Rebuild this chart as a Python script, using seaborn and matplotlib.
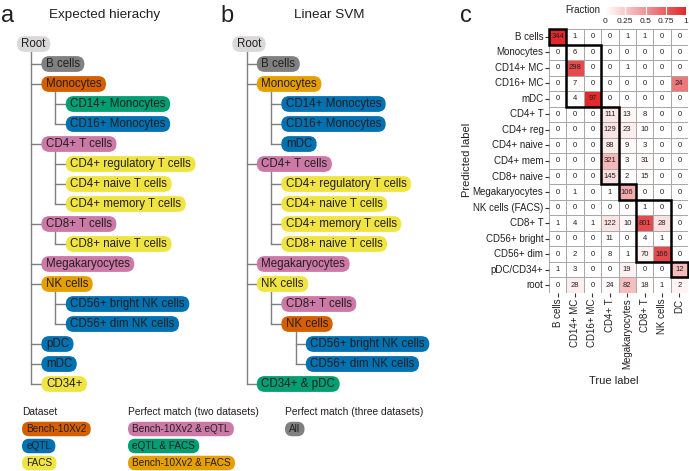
import numpy as np
import pandas as pd
import matplotlib
matplotlib.use("Agg")
import matplotlib.pyplot as plt
import seaborn as sns
from matplotlib.patches import FancyBboxPatch, Rectangle
from matplotlib.colors import LinearSegmentedColormap

# ---------------- data ----------------
PRED_LABELS = ["B cells", "Monocytes", "CD14+ MC", "CD16+ MC", "mDC", "CD4+ T",
               "CD4+ reg", "CD4+ naive", "CD4+ mem", "CD8+ naive", "Megakaryocytes",
               "NK cells (FACS)", "CD8+ T", "CD56+ bright", "CD56+ dim", "pDC/CD34+", "root"]
TRUE_LABELS = ["B cells", "CD14+ MC", "CD16+ MC", "CD4+ T", "Megakaryocytes",
               "CD8+ T", "NK cells", "DC"]
COUNTS = [
    [344, 1, 0, 0, 1, 1, 0, 0],
    [0, 6, 0, 0, 0, 0, 0, 0],
    [0, 298, 0, 0, 1, 0, 0, 0],
    [0, 7, 0, 0, 0, 0, 0, 24],
    [0, 4, 97, 0, 0, 0, 0, 0],
    [0, 0, 0, 111, 13, 8, 0, 0],
    [0, 0, 0, 129, 23, 10, 0, 0],
    [0, 0, 0, 88, 9, 3, 0, 0],
    [0, 0, 0, 321, 3, 31, 0, 0],
    [0, 0, 0, 145, 2, 15, 0, 0],
    [0, 1, 0, 1, 106, 0, 0, 0],
    [0, 0, 0, 0, 0, 1, 0, 0],
    [1, 4, 1, 122, 10, 801, 28, 0],
    [0, 0, 0, 11, 0, 4, 1, 0],
    [0, 2, 0, 8, 1, 70, 166, 0],
    [1, 3, 0, 0, 19, 0, 0, 12],
    [0, 28, 0, 24, 82, 18, 1, 2],
]
# (first row, last row, first col, last col) of the matching blocks
MATCH_BLOCKS = [(0, 0, 0, 0), (1, 4, 1, 2), (5, 9, 3, 3), (10, 10, 4, 4),
                (11, 14, 5, 6), (15, 15, 7, 7)]
CBAR_TICKS = [0, 0.25, 0.5, 0.75, 1]
CBAR_TICKLABELS = ["0", "0.25", "0.5", "0.75", "1"]

GROUP_COLORS = {
    "root": "#D9D9D9", "all": "#808080", "bench": "#D55E00", "eqtl": "#0072B2",
    "facs": "#F0E442", "bench_eqtl": "#CC79A7", "eqtl_facs": "#009E73",
    "bench_facs": "#E69F00",
}

TREE_A_LABELS = ["Root", "B cells", "Monocytes", "CD14+ Monocytes", "CD16+ Monocytes",
                 "CD4+ T cells", "CD4+ regulatory T cells", "CD4+ naive T cells",
                 "CD4+ memory T cells", "CD8+ T cells", "CD8+ naive T cells",
                 "Megakaryocytes", "NK cells", "CD56+ bright NK cells",
                 "CD56+ dim NK cells", "pDC", "mDC", "CD34+"]
TREE_A_LEVELS = [0, 1, 1, 2, 2, 1, 2, 2, 2, 1, 2, 1, 1, 2, 2, 1, 1, 1]
TREE_A_GROUPS = ["root", "all", "bench", "eqtl_facs", "eqtl", "bench_eqtl", "facs", "facs",
                 "facs", "bench_eqtl", "facs", "bench_eqtl", "bench_facs", "eqtl", "eqtl",
                 "eqtl", "eqtl", "facs"]

TREE_B_LABELS = ["Root", "B cells", "Monocytes", "CD14+ Monocytes", "CD16+ Monocytes", "mDC",
                 "CD4+ T cells", "CD4+ regulatory T cells", "CD4+ naive T cells",
                 "CD4+ memory T cells", "CD8+ naive T cells", "Megakaryocytes", "NK cells",
                 "CD8+ T cells", "NK cells", "CD56+ bright NK cells", "CD56+ dim NK cells",
                 "CD34+ & pDC"]
TREE_B_LEVELS = [0, 1, 1, 2, 2, 2, 1, 2, 2, 2, 2, 1, 1, 2, 2, 3, 3, 1]
TREE_B_GROUPS = ["root", "all", "bench_facs", "eqtl", "eqtl", "eqtl", "bench_eqtl", "facs",
                 "facs", "facs", "facs", "bench_eqtl", "facs", "bench_eqtl", "bench",
                 "eqtl", "eqtl", "eqtl_facs"]

LEGEND_DATASET = ["Bench-10Xv2", "eQTL", "FACS"]
LEGEND_DATASET_GROUPS = ["bench", "eqtl", "facs"]
LEGEND_TWO = ["Bench-10Xv2 & eQTL", "eQTL & FACS", "Bench-10Xv2 & FACS"]
LEGEND_TWO_GROUPS = ["bench_eqtl", "eqtl_facs", "bench_facs"]
LEGEND_THREE = ["All"]
LEGEND_THREE_GROUPS = ["all"]

# ---------------- figure ----------------
W, H = 689, 471
TXT = "#231F20"
LINE = "#7F7F7F"
plt.rcParams["font.family"] = ["Liberation Sans", "DejaVu Sans"]
fig = plt.figure(figsize=(W / 100, H / 100), dpi=100)
ax0 = fig.add_axes([0, 0, 1, 1])
ax0.set_xlim(0, W)
ax0.set_ylim(H, 0)
ax0.axis("off")

pending = []  # (text artist, left, y, color, height, padx)


def node(x_left, y, label, color, fs=8.3, h=15.8, padx=4.5):
    t = ax0.text(x_left + padx, y, label, ha="left", va="center", fontsize=fs,
                 color=TXT, zorder=3)
    pending.append((t, x_left, y, color, h, padx))


def draw_tree(labels, levels, groups, x_root, indent, y_top, dy, voff):
    xs = [x_root + lv * indent for lv in levels]
    ys = [y_top + i * dy for i in range(len(labels))]
    for i, lv in enumerate(levels):
        children = []
        for j in range(i + 1, len(levels)):
            if levels[j] <= lv:
                break
            if levels[j] == lv + 1:
                children.append(j)
        if children:
            vx = xs[i] + voff
            ax0.plot([vx, vx], [ys[i] + 7, ys[children[-1]]], color=LINE, lw=1.0,
                     zorder=1, solid_capstyle="butt")
            for c in children:
                ax0.plot([vx, xs[c] + 2], [ys[c], ys[c]], color=LINE, lw=1.0, zorder=1)
    for i, lab in enumerate(labels):
        node(xs[i], ys[i], lab, GROUP_COLORS[groups[i]])


draw_tree(TREE_A_LABELS, TREE_A_LEVELS, TREE_A_GROUPS, 17, 24.4, 44, 20, 13.5)
draw_tree(TREE_B_LABELS, TREE_B_LEVELS, TREE_B_GROUPS, 232.3, 24.5, 44, 20, 14.2)

# legends
for x0, title, labs, grps in [(22, "Dataset", LEGEND_DATASET, LEGEND_DATASET_GROUPS),
                              (128, "Perfect match (two datasets)", LEGEND_TWO, LEGEND_TWO_GROUPS),
                              (285, "Perfect match (three datasets)", LEGEND_THREE, LEGEND_THREE_GROUPS)]:
    ax0.text(x0, 412, title, ha="left", va="center", fontsize=7.4, color=TXT)
    for k, (lab, g) in enumerate(zip(labs, grps)):
        node(x0, 429 + 17 * k, lab, GROUP_COLORS[g], fs=7.2, h=14.5, padx=4.2)

# titles & panel letters
ax0.text(105, 15, "Expected hierachy", ha="center", va="center", fontsize=9.7, color=TXT)
ax0.text(329.5, 15, "Linear SVM", ha="center", va="center", fontsize=9.7, color=TXT)
for x, letter in [(1, "a"), (220, "b"), (460, "c")]:
    ax0.text(x, 22, letter, ha="left", va="baseline", fontsize=17, color=TXT)
ax0.text(600, 10, "Fraction", ha="right", va="center", fontsize=7, color=TXT)

# ---------------- heatmap ----------------
counts = pd.DataFrame(COUNTS, index=PRED_LABELS, columns=TRUE_LABELS)
frac = counts / counts.sum(axis=0)


def px_axes(left, top, right, bottom):
    return fig.add_axes([left / W, 1 - bottom / H, (right - left) / W, (bottom - top) / H])


axh = px_axes(549, 29, 688, 293)
axc = px_axes(605, 7, 686, 15)
cmap = LinearSegmentedColormap.from_list("wr", ["#FFFFFF", "#E2282A"])
sns.heatmap(frac, ax=axh, cmap=cmap, vmin=0, vmax=1, annot=counts, fmt="d",
            annot_kws={"size": 5.5, "color": TXT}, linewidths=0.5, linecolor="#A8A8A8",
            cbar_ax=axc, cbar_kws={"orientation": "horizontal"},
            xticklabels=TRUE_LABELS, yticklabels=PRED_LABELS)
axh.set_xticklabels(TRUE_LABELS, rotation=90, fontsize=7, color=TXT)
axh.set_yticklabels(PRED_LABELS, rotation=0, fontsize=7, color=TXT)
axh.tick_params(length=3, width=0.8, pad=1, color="#333333")
for r0, r1, c0, c1 in MATCH_BLOCKS:
    axh.add_patch(Rectangle((c0, r0), c1 - c0 + 1, r1 - r0 + 1, fill=False,
                            ec="black", lw=1.8, clip_on=False, zorder=5))
axh.set_xlabel("True label", fontsize=8, color=TXT)
axh.set_ylabel("Predicted label", fontsize=8, color=TXT)
axh.xaxis.set_label_coords((614 - 549) / 139, (293 - 376) / 264)
axh.yaxis.set_label_coords((472 - 549) / 139, (293 - 160) / 264)

axc.set_xticks(CBAR_TICKS)
axc.set_xticklabels(CBAR_TICKLABELS, fontsize=6, color=TXT)
axc.tick_params(length=0, pad=2)
for v in CBAR_TICKS[1:-1]:
    axc.axvline(v, color="white", lw=0.8)
for s in axc.spines.values():
    s.set_visible(False)
try:
    axc.collections[0].colorbar.outline.set_visible(False)
except Exception:
    pass

# ---------------- boxes sized to their text ----------------
fig.canvas.draw()
renderer = fig.canvas.get_renderer()
for t, x_left, y, color, h, padx in pending:
    w = t.get_window_extent(renderer).width
    ax0.add_patch(FancyBboxPatch((x_left, y - h / 2), w + 2 * padx, h,
                                 boxstyle=f"round,pad=0,rounding_size={h / 2}",
                                 fc=color, ec="none", zorder=2))

fig.savefig("out.png", dpi=100)
